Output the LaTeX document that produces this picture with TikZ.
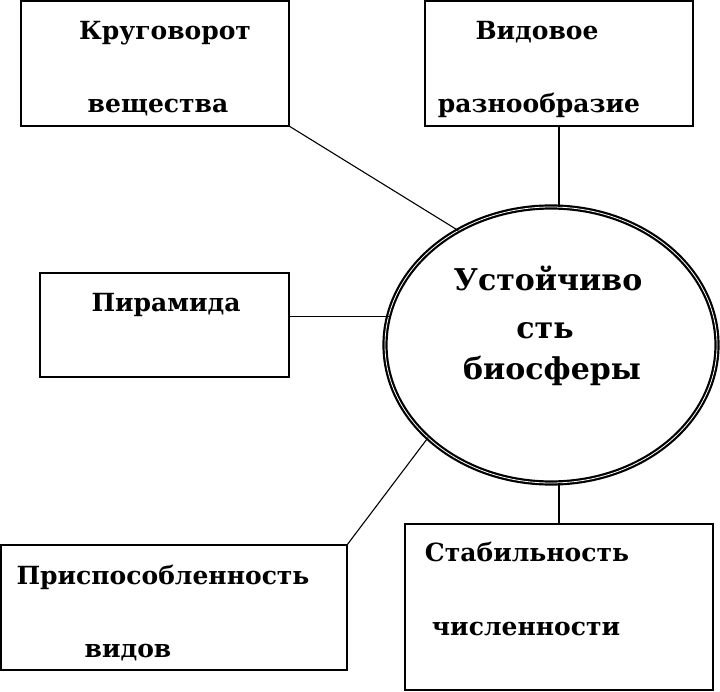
\documentclass[tikz,border=0pt]{standalone}
\usepackage{fontspec}
\setmainfont{DejaVu Serif}
\usetikzlibrary{shapes.geometric}
\tikzset{
  boxnode/.style={draw=black, line width=1.5pt, rectangle, inner sep=0pt, outer sep=0pt, fill=white},
  lbl/.style={anchor=base, inner sep=0pt, font=\bfseries\fontsize{25}{30}\selectfont},
  biglbl/.style={anchor=base, inner sep=0pt, font=\bfseries\fontsize{30}{35}\selectfont},
  conn/.style={draw=black, line width=1.1pt},
  ring/.style={ellipse, draw=black, line width=2.2pt, double=white, double distance=0.8pt, inner sep=0pt, outer sep=0pt}
}
\begin{document}
\begin{tikzpicture}[x=1pt,y=-1pt]
\useasboundingbox (0,0) rectangle (720,692);
\fill[white] (0,0) rectangle (720,692);
% boxes
\node[boxnode, minimum width=268pt, minimum height=125pt] (b1) at (155,63.5) {};
\node[boxnode, minimum width=268pt, minimum height=125pt] (b2) at (559,63.5) {};
\node[boxnode, minimum width=249pt, minimum height=104pt] (b3) at (164.5,325) {};
\node[boxnode, minimum width=346pt, minimum height=125pt] (b4) at (174,607.5) {};
\node[boxnode, minimum width=308pt, minimum height=166pt] (b5) at (559,607) {};
% ellipse
\node[ring, minimum width=332pt, minimum height=276pt] (e) at (551,345) {};
% connectors
\draw[conn] (b1.south east) -- (e.129);
\draw[conn] (b2.south) -- (b2.south |- e.north);
\draw[conn] (e.170) -- (e.170 -| b3.east);
\draw[conn] (b4.north east) -- (e.217);
\draw[conn] (b5.north) -- (b5.north |- e.south);
% texts
\node[lbl] (t1a) at (165,40) {Круговорот};
\node[lbl] (t1b) at (158,113) {вещества};
\node[lbl] (t2a) at (537,40) {Видовое};
\node[lbl] (t2b) at (539,113) {разнообразие};
\node[lbl] (t3) at (166,312) {Пирамида};
\node[lbl] (t4a) at (163,584) {Приспособленность};
\node[lbl] (t4b) at (128,657) {видов};
\node[lbl] (t5a) at (527,561) {Стабильность};
\node[lbl] (t5b) at (526,635) {численности};
\node[biglbl] (ea) at (548,291) {Устойчиво};
\node[biglbl] (eb) at (545,339) {сть};
\node[biglbl] (ec) at (552,380) {биосферы};
\end{tikzpicture}
\end{document}
